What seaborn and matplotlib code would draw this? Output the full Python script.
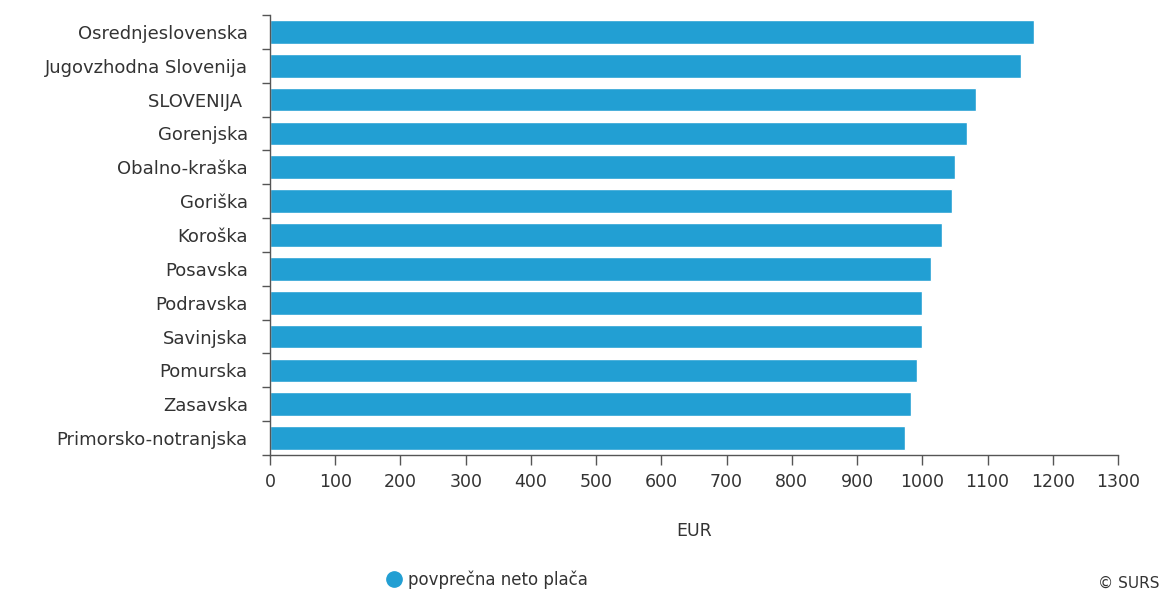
import matplotlib
matplotlib.use("Agg")
import matplotlib.pyplot as plt
from matplotlib.lines import Line2D
import numpy as np
import pandas as pd
import seaborn as sns

# povprecna neto placa po regijah (EUR)
regions = ['Osrednjeslovenska', 'Jugovzhodna Slovenija', 'SLOVENIJA ', 'Gorenjska',
           'Obalno-kraška', 'Goriška', 'Koroška', 'Posavska', 'Podravska',
           'Savinjska', 'Pomurska', 'Zasavska', 'Primorsko-notranjska']
salary = [1171, 1152, 1082, 1069, 1050, 1045, 1030, 1014, 999, 999, 992, 983, 974]
xticks = list(range(0, 1301, 100))
legend_label = 'povprečna neto plača'

bar_color = '#229fd3'
text_color = '#333333'
axis_color = '#555555'

sns.set_style('white')
plt.rcParams['font.family'] = ['DejaVu Sans']

df = pd.DataFrame({'regija': regions, 'placa': salary})

fig = plt.figure(figsize=(11.63, 5.95), dpi=100)
ax = fig.add_axes([270 / 1163, 1 - 455 / 595, 848 / 1163, 440 / 595])

sns.barplot(data=df, x='placa', y='regija', color=bar_color, saturation=1,
            width=0.7, ax=ax)

ax.set_xlim(0, 1300)
ax.set_ylim(len(regions) - 0.5, -0.5)
ax.set_xticks(xticks)
ax.set_xticklabels([str(t) for t in xticks])
ax.set_yticks(np.arange(-0.5, len(regions), 1), minor=True)

ax.tick_params(axis='y', which='major', length=0, pad=16, labelsize=13,
               labelcolor=text_color)
ax.tick_params(axis='y', which='minor', length=5.5, width=1, color=axis_color,
               left=True)
ax.tick_params(axis='x', length=7, width=1, color=axis_color, labelsize=12.5,
               labelcolor=text_color, pad=6, bottom=True)

ax.set_xlabel('EUR', fontsize=12.5, color=text_color, labelpad=22)
ax.set_ylabel('')

sns.despine(ax=ax)
for side in ['left', 'bottom']:
    ax.spines[side].set_color(axis_color)
    ax.spines[side].set_linewidth(1)

handle = Line2D([], [], marker='o', linestyle='', markersize=11,
                markerfacecolor=bar_color, markeredgecolor=bar_color)
fig.legend([handle], [legend_label], loc='center', bbox_to_anchor=(486 / 1163, 1 - 580 / 595),
           frameon=False, fontsize=12, labelcolor=text_color, handletextpad=0.2,
           borderpad=0, handlelength=1.2)

fig.text(1160 / 1163, 1 - 583 / 595, '© SURS', ha='right', va='center',
         fontsize=11, color=text_color)

fig.savefig('out.png', dpi=100, facecolor='white')
